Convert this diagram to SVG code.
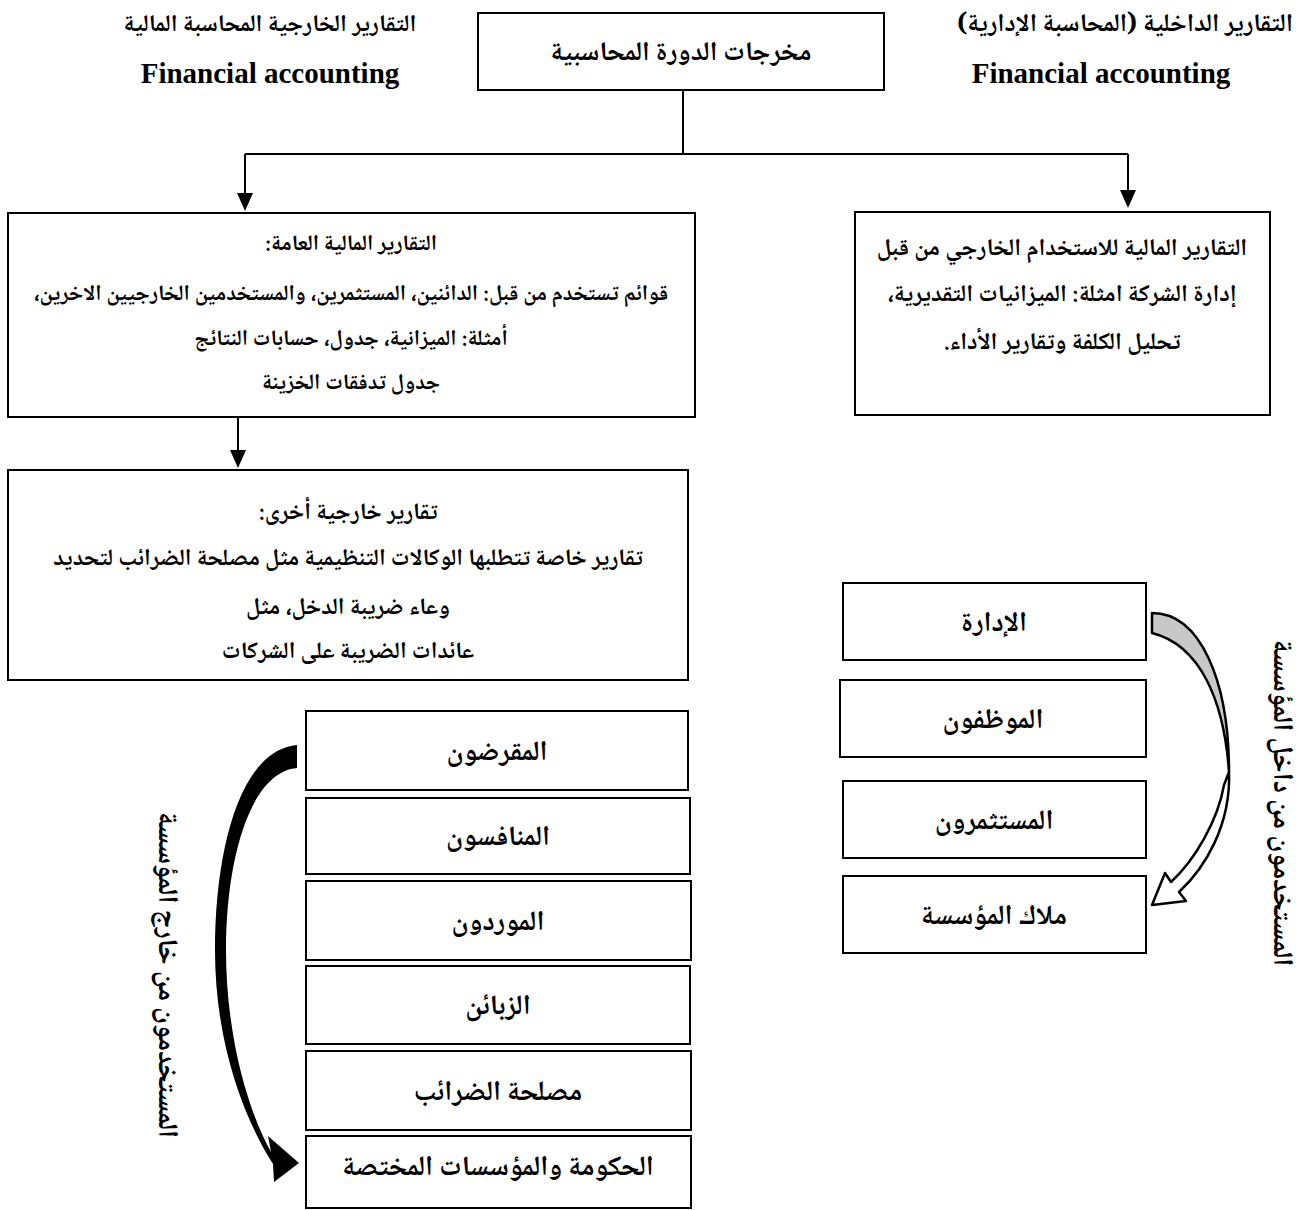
<svg xmlns="http://www.w3.org/2000/svg" width="1303" height="1210" viewBox="0 0 1303 1210">
<defs>
<style>
.box{fill:#fff;stroke:#000;stroke-width:2}
.ar{font-family:"Noto Naskh Arabic","Noto Sans Arabic","DejaVu Sans",sans-serif;font-weight:bold;fill:#000;text-anchor:middle;direction:rtl}
.ttl{font-size:24px}
.ttr{font-size:25.5px}
.ctr{font-size:27px}
.ta{font-size:22px}
.tb{font-size:24px}
.tc{font-size:23.5px}
.nd{font-size:28px}
.en{font-family:"Liberation Serif","DejaVu Serif",serif;font-weight:bold;font-size:29px;text-anchor:middle;fill:#000}
.ln{stroke:#000;stroke-width:2;fill:none}
.vt{font-family:"Noto Naskh Arabic","DejaVu Sans",sans-serif;font-weight:bold;font-size:28px;text-anchor:middle;fill:#000;direction:rtl}
</style>
</defs>

<g id="titles">
<text class="ar ttl" x="270" y="31">التقارير الخارجية المحاسبة المالية</text>
<text class="en" x="270" y="83">Financial accounting</text>
<text class="ar ttr" x="1125" y="31">التقارير الداخلية (المحاسبة الإدارية)</text>
<text class="en" x="1101" y="83">Financial accounting</text>
</g>

<g id="connectors">
<path class="ln" d="M683,90 V154 M245,154 H1128"/>
<path d="M245,154 V195" class="ln"/>
<path d="M237,193 L253,193 L245,211 Z" fill="#000"/>
<path d="M1128,154 V192" class="ln"/>
<path d="M1120,190 L1136,190 L1128,208 Z" fill="#000"/>
<path d="M238,417 V452" class="ln"/>
<path d="M230,450 L246,450 L238,468 Z" fill="#000"/>
<path id="outer-arrow" d="M297,745 C240,750 215,850 215,950 C215,1045 245,1120 273,1164 L274,1182 L299,1163 L268,1136 L271,1152 C250,1115 226,1040 226,950 C226,860 250,772 297,768 Z" fill="#000"/>
<path id="inner-arrow-top" d="M1152,613 C1200,613 1229,680 1229,772 C1224,700 1200,645 1152,633 Z" fill="#c8c8c8" stroke="#000" stroke-width="2.5" stroke-linejoin="round"/>
<path id="inner-arrow-bottom" d="M1229,772 C1231,825 1205,868 1179,892 L1186,901 L1152,905 L1165,873 L1171,882 C1195,860 1218,820 1224,785 Z" fill="#fff" stroke="#000" stroke-width="2.5" stroke-linejoin="round"/>
</g>

<g id="node-outputs">
<rect class="box" x="478" y="13" width="406" height="77"/>
<text class="ar ctr" x="681" y="60">مخرجات الدورة المحاسبية</text>
</g>

<g id="node-general">
<rect class="box" x="8" y="213" width="687" height="204"/>
<text class="ar ta" x="351" y="250">التقارير المالية العامة:</text>
<text class="ar ta" x="351" y="300">قوائم تستخدم من قبل: الدائنين، المستثمرين، والمستخدمين الخارجيين الاخرين،</text>
<text class="ar ta" x="351" y="345">أمثلة: الميزانية، جدول، حسابات النتائج</text>
<text class="ar ta" x="351" y="389">جدول تدفقات الخزينة</text>
</g>

<g id="node-internal">
<rect class="box" x="855" y="212" width="415" height="203"/>
<text class="ar tb" x="1062" y="255">التقارير المالية للاستخدام الخارجي من قبل</text>
<text class="ar tb" x="1062" y="301">إدارة الشركة امثلة: الميزانيات التقديرية،</text>
<text class="ar tb" x="1062" y="349">تحليل الكلفة وتقارير الأداء.</text>
</g>

<g id="node-other">
<rect class="box" x="8" y="470" width="680" height="210"/>
<text class="ar tc" x="348" y="519">تقارير خارجية أخرى:</text>
<text class="ar tc" x="348" y="565">تقارير خاصة تتطلبها الوكالات التنظيمية مثل مصلحة الضرائب لتحديد</text>
<text class="ar tc" x="348" y="614">وعاء ضريبة الدخل، مثل</text>
<text class="ar tc" x="348" y="658">عائدات الضريبة على الشركات</text>
</g>

<g id="node-management"><rect class="box" x="843" y="583" width="303" height="77"/><text class="ar nd" x="994" y="631">الإدارة</text></g>
<g id="node-employees"><rect class="box" x="840" y="680" width="306" height="77"/><text class="ar nd" x="993" y="728">الموظفون</text></g>
<g id="node-investors"><rect class="box" x="843" y="781" width="303" height="77"/><text class="ar nd" x="994" y="829">المستثمرون</text></g>
<g id="node-owners"><rect class="box" x="843" y="876" width="303" height="77"/><text class="ar nd" x="994" y="924">ملاك المؤسسة</text></g>

<g id="node-lenders"><rect class="box" x="306" y="711" width="382" height="79"/><text class="ar nd" x="497" y="760">المقرضون</text></g>
<g id="node-competitors"><rect class="box" x="306" y="798" width="384" height="76"/><text class="ar nd" x="498" y="845">المنافسون</text></g>
<g id="node-suppliers"><rect class="box" x="306" y="881" width="385" height="79"/><text class="ar nd" x="498" y="930">الموردون</text></g>
<g id="node-customers"><rect class="box" x="306" y="966" width="384" height="78"/><text class="ar nd" x="498" y="1014">الزبائن</text></g>
<g id="node-tax"><rect class="box" x="306" y="1051" width="385" height="79"/><text class="ar nd" x="498" y="1100">مصلحة الضرائب</text></g>
<g id="node-government"><rect class="box" x="306" y="1136" width="385" height="72"/><text class="ar nd" x="498" y="1175">الحكومة والمؤسسات المختصة</text></g>

<g id="side-labels">
<text class="vt" transform="translate(1284,803) rotate(90)" y="10">المستخدمون من داخل المؤسسة</text>
<text class="vt" transform="translate(169,975) rotate(90)" y="10">المستخدمون من خارج المؤسسة</text>
</g>
</svg>
